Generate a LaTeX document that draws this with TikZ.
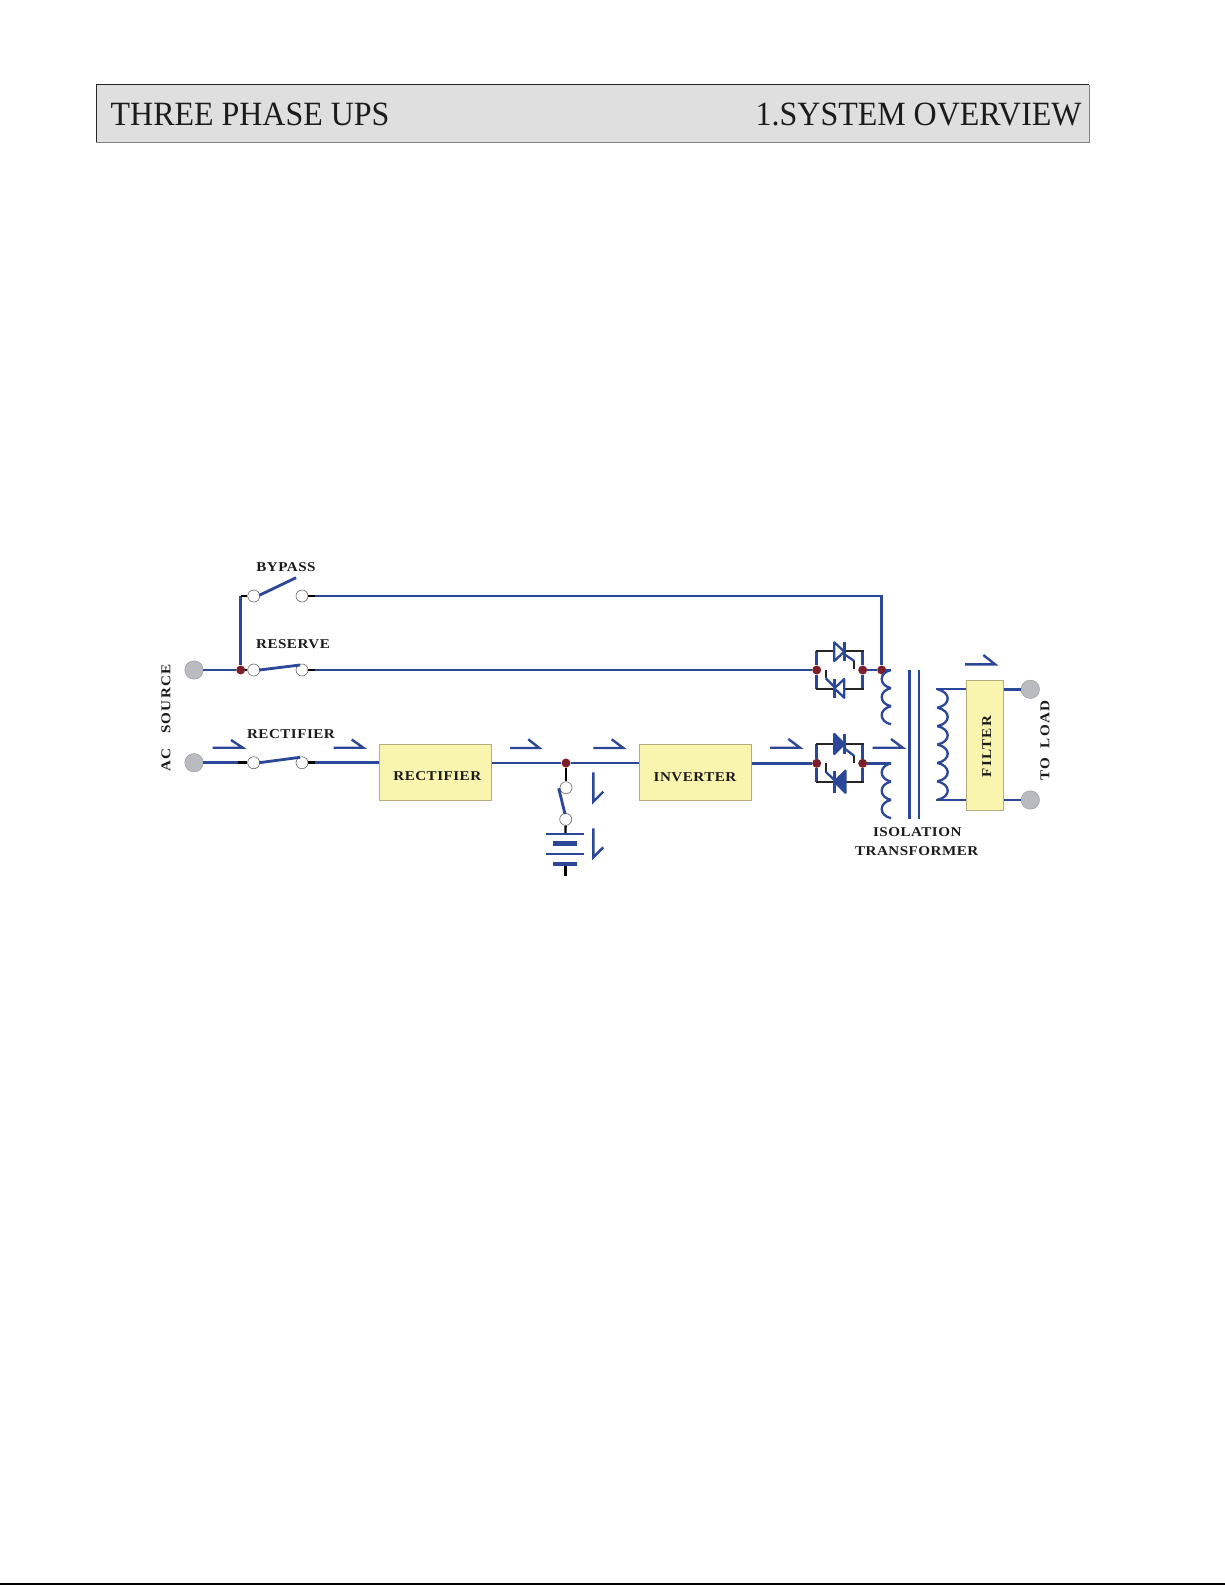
\documentclass[tikz,border=0pt]{standalone}
\usepackage{fontspec}
\setmainfont{Liberation Serif}
\newfontfamily\headfont[FakeStretch=0.94]{Liberation Serif}
\newfontfamily\labfont[FakeStretch=1.12,LetterSpace=3.5]{Liberation Serif Bold}
\newfontfamily\widelab[FakeStretch=1.12,LetterSpace=10]{Liberation Serif Bold}
\definecolor{wireblue}{HTML}{2B4797}
\definecolor{boxfill}{HTML}{F9F5AE}
\definecolor{boxedge}{HTML}{B9AC7C}
\definecolor{termgrey}{HTML}{B9BBC0}
\definecolor{dotred}{HTML}{7E1F2C}
\definecolor{headfill}{HTML}{DFDFDF}
\definecolor{inktext}{HTML}{1C1A1A}
\tikzset{
  wire/.style={draw=wireblue,line width=2.8pt},
  stub/.style={draw=black,line width=2.8pt},
  thin wire/.style={draw=wireblue,line width=2.3pt},
  gatewire/.style={draw=wireblue,line width=2.3pt},
  gatestub/.style={draw=black!85,line width=2.3pt},
  flow/.style={draw=wireblue,line width=2.4pt,line join=miter},
  term/.style={circle,fill=termgrey,draw=termgrey!80!black,line width=.4pt,minimum size=18.5pt,inner sep=0pt},
  contact/.style={circle,fill=white,draw=black!60,line width=.6pt,minimum size=12pt,inner sep=0pt},
  dot/.style={circle,fill=dotred,minimum size=9pt,inner sep=0pt},
  block/.style={draw=boxedge,fill=boxfill,line width=.8pt,inner sep=0pt},
  lab/.style={font=\labfont\fontsize{13.5}{15}\selectfont,text=inktext,inner sep=0pt},
  widelabel/.style={font=\widelab\fontsize{13.5}{15}\selectfont,text=inktext,inner sep=0pt},
  head/.style={font=\headfont\fontsize{34}{36}\selectfont,text=inktext,inner sep=0pt,anchor=base west},
}
% half arrow: start, tip, barb
\newcommand{\halfflow}[3]{\draw[flow] (#1) -- (#2) -- (#3);}
% coil of arcs: x of cusps, x of bulge, first y, pitch, count
\newcommand{\coilarcs}[5]{%
  \foreach \k in {1,...,#5}{%
    \pgfmathsetmacro{\ya}{#3+(\k-1)*#4}%
    \pgfmathsetmacro{\yb}{\ya+#4}%
    \pgfmathsetmacro{\xc}{#2+(#2-#1)/3}%
    \draw[thin wire] (#1,\ya) .. controls (\xc,\ya+.15*#4) and (\xc,\yb-.15*#4) .. (#1,\yb);
  }}
% thyristor: base x, apex x, top, bottom, fill colour
\newcommand{\thyr}[5]{%
  \draw[thin wire,fill=#5,line join=round] (#1,#3) -- (#1,#4) -- (#2,{(#3+#4)/2}) -- cycle;
  \draw[wire] (#2,#3) -- (#2,#4);}
\begin{document}
\begin{tikzpicture}[x=1pt,y=-1pt]
\useasboundingbox (0,0) rectangle (1225,1585);
\fill[white] (0,0) rectangle (1225,1585);
% header band
\fill[headfill] (96.3,84.7) rectangle (1089.3,142.3);
\draw[black!85,line width=1pt] (96.3,142.3) -- (96.3,84.7) -- (1089.3,84.7);
\draw[black!50,line width=1pt] (1089.3,84.7) -- (1089.3,142.3) -- (96.3,142.3);
\node[head] (title) at (110.5,125) {THREE PHASE UPS};
\node[head] (section) at (755.5,125) {1.SYSTEM OVERVIEW};
\draw[black,line width=2pt] (0,1584.4) -- (1225,1584.4);

% terminals, contacts, junctions
\node[term] (s1) at (194,670) {};
\node[term] (s2) at (194,762.7) {};
\node[term] (l1) at (1030.3,689.3) {};
\node[term] (l2) at (1030.3,800) {};
\node[contact] (bl) at (253.7,596) {};
\node[contact] (br) at (302,596) {};
\node[contact] (rl) at (253.7,670) {};
\node[contact] (rr) at (302,670) {};
\node[contact] (cl) at (253.7,762.7) {};
\node[contact] (cr) at (302,762.7) {};
\node[contact] (bt) at (566,787.7) {};
\node[contact] (bb) at (565.7,819.3) {};
\node[dot] (j1) at (240.7,670) {};
\node[dot] (j2) at (566,763) {};
\node[dot] (a1) at (816.7,670) {};
\node[dot] (a2) at (862.7,670) {};
\node[dot] (a3) at (881.7,670) {};
\node[dot] (b1) at (816.7,763.3) {};
\node[dot] (b2) at (862.7,763.3) {};

% blocks
\node[block,minimum width=112pt,minimum height=55.7pt] (rect) at (435.7,772.2) {};
\node[block,minimum width=112pt,minimum height=55.3pt] (inv) at (695.7,772.3) {};
\node[block,minimum width=37.4pt,minimum height=130pt] (filt) at (985,745.3) {};

% helper points
\coordinate (ct1) at (240.7,596);
\coordinate (ct2) at (881.7,596);
\coordinate (st1) at (315,596);
\coordinate (st2) at (315,670);
\coordinate (st3) at (315,762.7);
\coordinate (st4) at (238,762.7);
\coordinate (pa) at (891,670);
\coordinate (pb) at (891,763.3);
\coordinate (sec1) at (936.3,689.3);
\coordinate (sec2) at (936.3,800);

% wires
\draw[wire] (s1) -- (j1);
\draw[wire,line join=miter] (j1) -- (ct1);
\draw[stub] (ct1) -- (bl);
\draw[stub] (br) -- (st1);
\draw[wire] (st1) -- (ct2) -- (a3);
\draw[stub] (j1) -- (rl);
\draw[stub] (rr) -- (st2);
\draw[wire] (st2) -- (a1);
\draw[wire] (a2) -- (a3);
\draw[wire] (a3) -- (pa);
\draw[wire] (s2) -- (st4);
\draw[stub] (st4) -- (cl);
\draw[stub] (cr) -- (st3);
\draw[wire] (st3) -- (rect.west |- st3);
\draw[wire] (rect.east |- j2) -- (j2);
\draw[wire] (j2) -- (inv.west |- j2);
\draw[wire] (inv.east |- b1) -- (b1);
\draw[wire] (b2) -- (pb);
\draw[stub,line width=2.3pt] (j2) -- (bt);
\draw[thin wire] (sec1) -- (sec1 -| filt.west);
\draw[thin wire] (sec2) -- (sec2 -| filt.west);
\draw[wire] (filt.east |- l1) -- (l1);
\draw[wire] (filt.east |- l2) -- (l2);

% switch blades
\draw[wire] (259.3,595.3) -- (296,577.7);
\draw[wire] (259.3,670) -- (300,665);
\draw[wire] (259.3,762.7) -- (300,757.3);
\draw[wire] (558.7,788.3) -- (565,814);

% battery
\draw[stub,line width=2.3pt] (bb) -- (565.5,833.7);
\draw[thin wire] (546,833.7) -- (584,833.7);
\draw[wireblue,line width=4.5pt] (552.7,843.3) -- (577.3,843.3);
\draw[thin wire] (546,853.7) -- (584,853.7);
\draw[wireblue,line width=4.5pt] (552.7,864) -- (577.3,864);
\draw[stub,line width=2.3pt] (565.5,866) -- (565.5,875.7);

% upper static switch
\draw[wire] (a1) -- (816.7,651) (a1) -- (816.7,689);
\draw[wire] (a2) -- (862.7,651) (a2) -- (862.7,689);
\draw[gatestub] (815.7,651) -- (863.7,651) (815.7,689) -- (863.7,689);
\thyr{834.3}{844.3}{642.3}{661}{white}
\thyr{844.3}{834.3}{679}{697.7}{white}
\draw[gatewire] (844.3,654.3) -- (854.3,661);
\draw[gatestub] (854.3,661) -- (854.3,669);
\draw[gatestub] (825.7,670) -- (825.7,678.3);
\draw[gatewire] (825.7,678.3) -- (834.3,686.7);

% lower static switch
\draw[wire] (b1) -- (816.7,744.3) (b1) -- (816.7,781.7);
\draw[wire] (b2) -- (862.7,744.3) (b2) -- (862.7,781.7);
\draw[gatestub] (815.7,744.3) -- (863.7,744.3) (815.7,781.7) -- (863.7,781.7);
\thyr{834.3}{844.3}{734}{754}{wireblue}
\thyr{845.5}{834.3}{770.7}{792.7}{wireblue}
\draw[gatewire] (844.3,748.3) -- (854.3,756);
\draw[gatestub] (854.3,756) -- (854.3,763);
\draw[gatestub] (825.7,763.3) -- (825.7,771.7);
\draw[gatewire] (825.7,771.7) -- (834.3,780);

% transformer
\coilarcs{891}{881.7}{670}{18.1}{3}
\coilarcs{891}{881.7}{763.3}{18.3}{3}
\coilarcs{937.3}{947.7}{689.3}{18.42}{6}
\draw[wire] (909.3,670) -- (909.3,819);
\draw[wire] (919,670) -- (919,819);

% flow arrows
\coordinate (f1a) at (212.7,747.7); \coordinate (f1b) at (242.7,747.7); \coordinate (f1c) at (231,740);
\coordinate (f2a) at (333.7,747.7); \coordinate (f2b) at (363.3,747.7); \coordinate (f2c) at (351.7,739.5);
\coordinate (f3a) at (510,748); \coordinate (f3b) at (539.3,748); \coordinate (f3c) at (528.3,739.3);
\coordinate (f4a) at (593.3,748); \coordinate (f4b) at (623.3,748); \coordinate (f4c) at (611.7,739.3);
\coordinate (f5a) at (770,747.7); \coordinate (f5b) at (800,747.7); \coordinate (f5c) at (788.3,739);
\coordinate (f6a) at (872.7,747.7); \coordinate (f6b) at (902.7,747.7); \coordinate (f6c) at (891,739);
\coordinate (f7a) at (965,664.3); \coordinate (f7b) at (995,664.3); \coordinate (f7c) at (983.3,655);
\coordinate (f8a) at (593.3,772.3); \coordinate (f8b) at (593.3,801.7); \coordinate (f8c) at (603.3,791.7);
\coordinate (f9a) at (593.3,828.3); \coordinate (f9b) at (593.3,857.3); \coordinate (f9c) at (603.3,847.3);
\halfflow{f1a}{f1b}{f1c}
\halfflow{f2a}{f2b}{f2c}
\halfflow{f3a}{f3b}{f3c}
\halfflow{f4a}{f4b}{f4c}
\halfflow{f5a}{f5b}{f5c}
\halfflow{f6a}{f6b}{f6c}
\halfflow{f7a}{f7b}{f7c}
\halfflow{f8a}{f8b}{f8c}
\halfflow{f9a}{f9b}{f9c}

% labels
\node[lab] (tbypass) at (286,566.7) {BYPASS};
\node[lab] (treserve) at (293,644.3) {RESERVE};
\node[lab] (trect) at (291,734) {RECTIFIER};
\node[lab] (trbox) at (437.3,776.5) {RECTIFIER};
\node[lab] (tinv) at (695,776.7) {INVERTER};
\node[widelabel,rotate=90] (tfilt) at (986.7,746.7) {FILTER};
\node[widelabel,rotate=90] (tsrc) at (166,718) {AC\hspace{1.1em}SOURCE};
\node[widelabel,rotate=90] (tload) at (1045,740.5) {TO\hspace{.7em}LOAD};
\node[lab] (tiso) at (917.3,832) {ISOLATION};
\node[lab] (ttr) at (916.7,851.3) {TRANSFORMER};
\end{tikzpicture}
\end{document}
